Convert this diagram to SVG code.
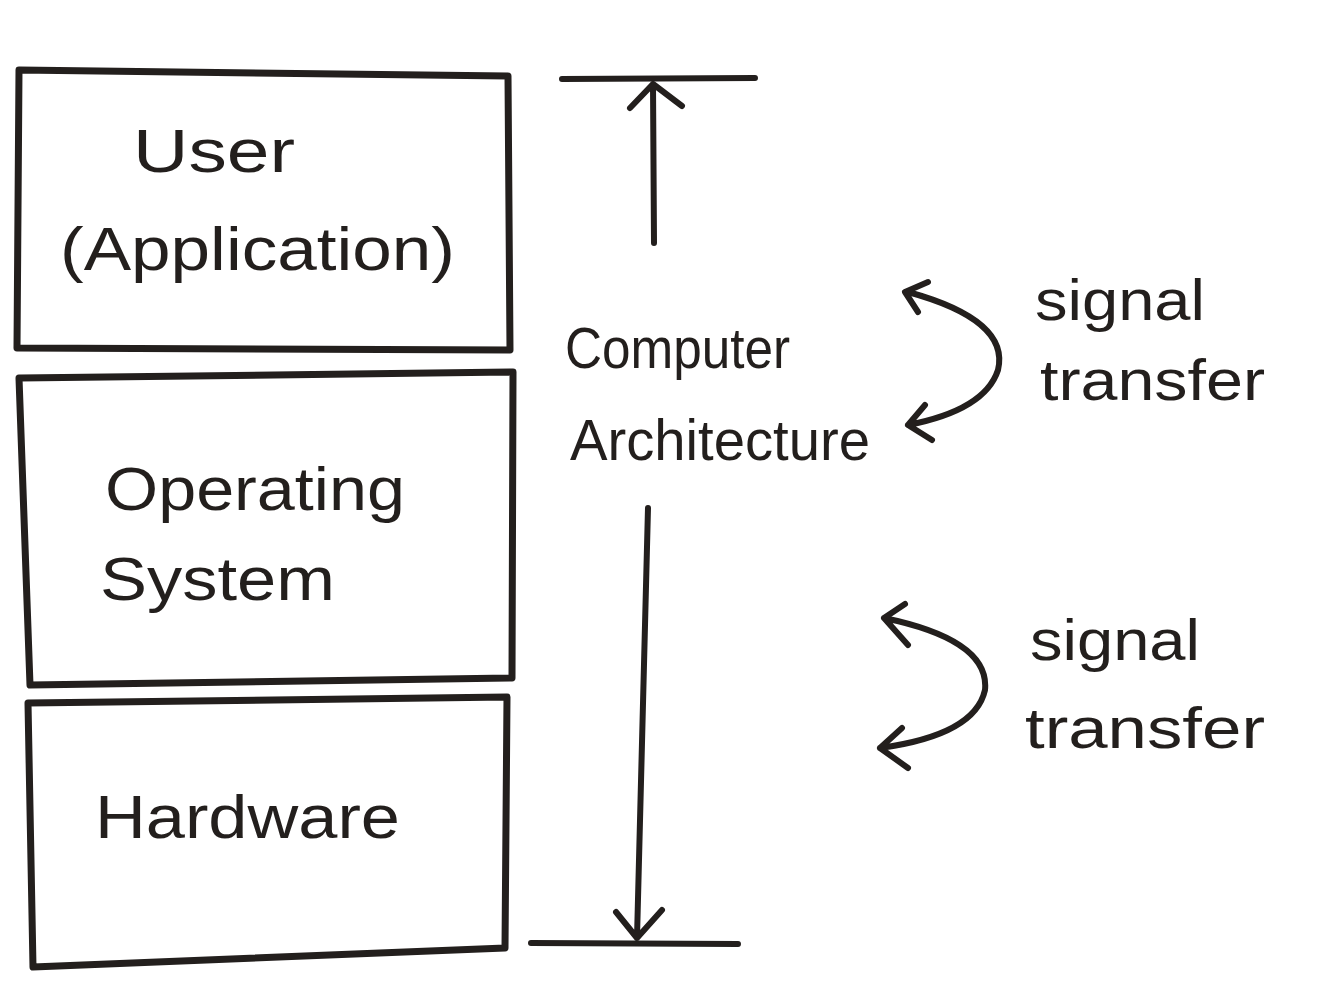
<svg xmlns="http://www.w3.org/2000/svg" width="1320" height="990" viewBox="0 0 1320 990">
<style>
.box{fill:none;stroke:#231f1d;stroke-width:7;stroke-linejoin:round}
.ln{fill:none;stroke:#231f1d;stroke-width:6;stroke-linecap:round;stroke-linejoin:round}
.t{font-family:"Liberation Sans",Arial,sans-serif;fill:#231f1d;font-size:62px}
.s{font-family:"Liberation Sans",Arial,sans-serif;fill:#231f1d;font-size:58px}
</style>
<rect width="1320" height="990" fill="#ffffff"/>
<g id="user">
<path class="box" d="M19 70 L508 76 L510 350 L17 348 Z"/>
<text class="t" x="133" y="172" textLength="162" lengthAdjust="spacingAndGlyphs">User</text>
<text class="t" x="60" y="270" textLength="395" lengthAdjust="spacingAndGlyphs">(Application)</text>
</g>
<g id="os">
<path class="box" d="M20 378 L513 372 L512 678 L30 685 L19 378 Z"/>
<text class="t" x="105" y="510" textLength="300" lengthAdjust="spacingAndGlyphs">Operating</text>
<text class="t" x="100" y="600" textLength="235" lengthAdjust="spacingAndGlyphs">System</text>
</g>
<g id="hardware">
<path class="box" d="M28 703 L507 697 L505 948 L33 967 Z"/>
<text class="t" x="95" y="838" textLength="305" lengthAdjust="spacingAndGlyphs">Hardware</text>
</g>
<g id="label">
<text class="s" x="565" y="368" textLength="225" lengthAdjust="spacingAndGlyphs">Computer</text>
<text class="s" x="570" y="460" textLength="300" lengthAdjust="spacingAndGlyphs">Architecture</text>
<text class="s" x="1035" y="320" textLength="170" lengthAdjust="spacingAndGlyphs">signal</text>
<text class="s" x="1040" y="400" textLength="225" lengthAdjust="spacingAndGlyphs">transfer</text>
<text class="s" x="1030" y="660" textLength="170" lengthAdjust="spacingAndGlyphs">signal</text>
<text class="s" x="1025" y="748" textLength="240" lengthAdjust="spacingAndGlyphs">transfer</text>
</g>
<g id="connectors">
<path class="ln" d="M562 79 L755 78"/>
<path class="ln" d="M654 243 L653 84 M630 108 L653 84 L682 106"/>
<path class="ln" d="M531 943 L738 944"/>
<path class="ln" d="M648 508 L637 938 M616 912 L637 938 L662 910"/>
<path class="ln" d="M908 292 Q1010 320 998 370 Q985 410 908 425 M905 292 L928 282 M905 292 L918 312 M908 425 L925 405 M908 425 L932 440"/>
<path class="ln" d="M884 618 Q990 640 985 690 Q975 735 880 748 M884 618 L905 604 M884 618 L908 645 M880 748 L902 728 M880 748 L908 768"/>
</g>
</svg>
